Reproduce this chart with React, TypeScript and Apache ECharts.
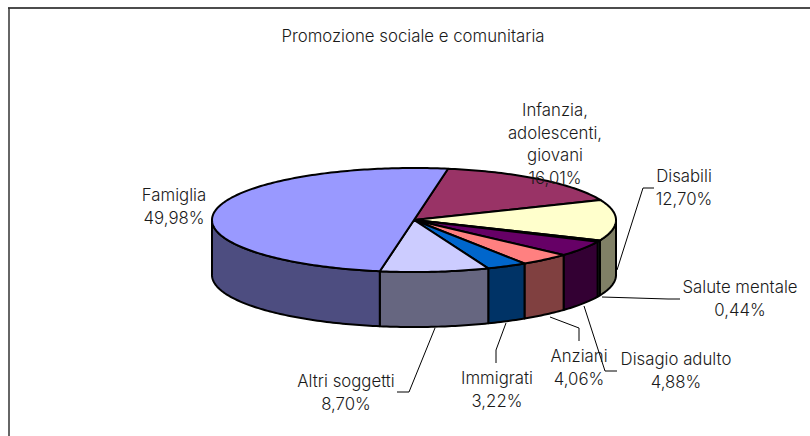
import React, { useEffect, useRef } from "react";
import * as echarts from "echarts";

const chartTitle = "Promozione sociale e comunitaria";
const sliceNames = ["Infanzia, adolescenti, giovani", "Disabili", "Salute mentale", "Disagio adulto", "Anziani", "Immigrati", "Altri soggetti", "Famiglia"];
const labelLines = [
  ["Infanzia,", "adolescenti,", "giovani"],
  ["Disabili"],
  ["Salute mentale"],
  ["Disagio adulto"],
  ["Anziani"],
  ["Immigrati"],
  ["Altri soggetti"],
  ["Famiglia"],
];
const sliceValues = [16.01, 12.7, 0.44, 4.88, 4.06, 3.22, 8.7, 49.98];
const topColors = ["#993366", "#FFFFCC", "#CCFFFF", "#660066", "#FF8080", "#0066CC", "#CCCCFF", "#9999FF"];
const sideColors = ["#4D1A33", "#808066", "#668080", "#330033", "#804040", "#003366", "#666680", "#4D4D80"];

// layout
const labelCenters = [
  [555, 110], [684, 176], [740, 287], [676, 359], [579, 356], [497, 378], [346, 381], [174, 195],
];
const lineGap = 22.5;
const leaderLines: (number[][] | null)[] = [
  null,
  [[617, 270], [643, 188], [654, 188]],
  [[602, 297], [668, 299], [680, 299]],
  [[584, 306], [605, 371], [617, 371]],
  [[550, 317], [579, 328], [579, 341]],
  [[506, 323], [496, 350], [496, 363]],
  [[435, 328], [409, 392], [397, 392]],
  null,
];
const CX = 414, CY = 220, RX = 202, RY = 52, DEPTH = 55, START_DEG = 9.7;
const FONT = "Inter, sans-serif";
const FONT_SIZE = 16.8;
const FONT_STYLE = `300 ${FONT_SIZE}px ${FONT}`;

const total = sliceValues.reduce((a, b) => a + b, 0);
const ranges: [number, number][] = [];
{
  let acc = START_DEG;
  for (const v of sliceValues) {
    const next = acc + (v / total) * 360;
    ranges.push([acc, next]);
    acc = next;
  }
}
const pt = (deg: number, dy = 0): [number, number] => {
  const t = (deg * Math.PI) / 180;
  return [CX + RX * Math.sin(t), CY - RY * Math.cos(t) + dy];
};
const arc = (a: number, b: number, dy = 0) => {
  const pts: [number, number][] = [];
  const n = Math.max(2, Math.ceil(Math.abs(b - a)));
  for (let i = 0; i <= n; i++) pts.push(pt(a + ((b - a) * i) / n, dy));
  return pts;
};
const fmt = (v: number) => v.toFixed(2).replace(".", ",") + "%";

export default function App() {
  const ref = useRef<HTMLDivElement>(null);
  useEffect(() => {
    const chart = echarts.init(ref.current!, null, { renderer: "svg" });
    const labelGraphics: any[] = [];
    sliceValues.forEach((v, i) => {
      const [cx, y0] = labelCenters[i];
      [...labelLines[i], fmt(v)].forEach((line, k) => {
        labelGraphics.push({
          type: "text", x: cx, y: y0 + k * lineGap, z: 10,
          style: { text: line, fill: "#1a1a1a", font: FONT_STYLE, textAlign: "center", textVerticalAlign: "middle" },
        });
      });
      const l = leaderLines[i];
      if (l) labelGraphics.push({ type: "polyline", z: 5, shape: { points: l }, style: { stroke: "#000", lineWidth: 1, fill: "none" } });
    });
    chart.setOption({
      animation: false,
      backgroundColor: "#fff",
      title: {
        text: chartTitle, left: 408, top: 31, textAlign: "center", textVerticalAlign: "middle",
        textStyle: { fontFamily: FONT, fontSize: FONT_SIZE, fontWeight: 300, color: "#1a1a1a" },
      },
      graphic: [
        { type: "line", shape: { x1: 8, y1: 8, x2: 810, y2: 8 }, style: { stroke: "#111", lineWidth: 1.5 } },
        { type: "line", shape: { x1: 9, y1: 8, x2: 9, y2: 436 }, style: { stroke: "#333", lineWidth: 1.5 } },
        ...labelGraphics,
      ],
      series: [
        {
          type: "custom", coordinateSystem: "none", silent: true, z: 1,
          data: sliceValues.map((v, i) => ({ name: sliceNames[i], value: v })),
          renderItem: (p: any) => {
            const [a, b] = ranges[p.dataIndex];
            const segs: any[] = [];
            // the lower half of the rim (90..270 degrees) is what faces the viewer
            for (const [lo, hi] of [[90, 270], [450, 630]]) {
              const s = Math.max(a, lo), e = Math.min(b, hi);
              if (e > s) {
                segs.push({
                  type: "polygon",
                  shape: { points: [...arc(s, e), ...arc(e, s, DEPTH)] },
                  style: { fill: sideColors[p.dataIndex], stroke: "#000", lineWidth: 2, lineJoin: "round" },
                });
              }
            }
            return { type: "group", children: segs };
          },
        },
        {
          type: "custom", coordinateSystem: "none", silent: true, z: 2,
          data: sliceValues.map((v, i) => ({ name: sliceNames[i], value: v })),
          renderItem: (p: any) => {
            const [a, b] = ranges[p.dataIndex];
            return {
              type: "polygon",
              shape: { points: [[CX, CY], ...arc(a, b)] },
              style: { fill: topColors[p.dataIndex], stroke: "#000", lineWidth: 2, lineJoin: "round" },
            };
          },
        },
      ],
    });
    return () => chart.dispose();
  }, []);
  return <div ref={ref} style={{ position: "absolute", left: 0, top: 0, width: 810, height: 436, overflow: "hidden" }} />;
}
